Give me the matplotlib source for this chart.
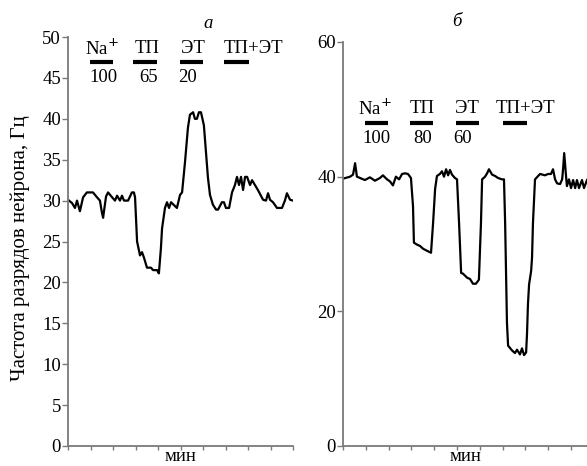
import numpy as np
import matplotlib
matplotlib.use("Agg")
import matplotlib.pyplot as plt

plt.rcParams['font.family'] = ['Liberation Serif', 'DejaVu Serif']

# panel a: time (min) and firing rate (Hz)
t_a = [0, 0.18, 0.31, 0.4, 0.53, 0.67, 0.84, 1.11, 1.29, 1.42, 1.51, 1.56, 1.69, 1.78,
       1.96, 2.09, 2.18, 2.31, 2.4, 2.49, 2.67, 2.84, 2.93, 2.98, 3.07, 3.2, 3.29, 3.38,
       3.51, 3.69, 3.78, 3.96, 4.04, 4.13, 4.18, 4.31, 4.4, 4.49, 4.58, 4.84, 4.98, 5.07,
       5.2, 5.33, 5.42, 5.56, 5.64, 5.73, 5.82, 5.91, 6.04, 6.13, 6.22, 6.31, 6.44, 6.58,
       6.67, 6.84, 6.93, 7.02, 7.16, 7.29, 7.42, 7.51, 7.6, 7.69, 7.78, 7.87, 7.96, 8.09,
       8.18, 8.31, 8.44, 8.67, 8.8, 8.89, 8.98, 9.11, 9.29, 9.51, 9.64, 9.73, 9.87, 10.0]
f_a = [30.1, 29.7, 29.1, 30.0, 28.7, 30.4, 31.0, 31.0, 30.4, 30.0, 28.5, 27.9, 30.5, 31.0,
       30.4, 30.0, 30.6, 30.0, 30.6, 30.0, 30.0, 31.0, 31.0, 30.4, 25.0, 23.3, 23.7, 23.0,
       21.8, 21.8, 21.5, 21.5, 21.1, 24.2, 26.6, 29.1, 29.8, 29.1, 29.8, 29.1, 30.7, 31.0,
       34.7, 38.9, 40.5, 40.8, 40.0, 40.0, 40.8, 40.8, 39.2, 36.0, 32.8, 30.7, 29.5, 28.9,
       28.9, 29.8, 29.8, 29.1, 29.1, 31.0, 31.9, 32.9, 31.9, 32.9, 31.3, 32.9, 32.9, 31.9,
       32.5, 31.9, 31.3, 30.1, 30.0, 30.9, 30.1, 29.8, 29.1, 29.1, 30.0, 30.9, 30.1, 30.0]

# panel b
t_b = [0, 0.31, 0.44, 0.53, 0.61, 0.75, 0.96, 1.18, 1.4, 1.62, 1.75, 1.93, 2.06, 2.19,
       2.32, 2.46, 2.59, 2.72, 2.85, 2.98, 3.07, 3.11, 3.25, 3.38, 3.51, 3.68, 3.86, 3.95,
       4.04, 4.12, 4.25, 4.34, 4.43, 4.52, 4.61, 4.69, 4.78, 4.91, 5.0, 5.09, 5.18, 5.26,
       5.44, 5.57, 5.7, 5.83, 5.96, 6.05, 6.1, 6.23, 6.32, 6.4, 6.54, 6.67, 6.8, 6.97,
       7.06, 7.11, 7.19, 7.24, 7.41, 7.54, 7.63, 7.76, 7.85, 7.94, 8.03, 8.07, 8.11, 8.16,
       8.25, 8.29, 8.33, 8.42, 8.64, 8.86, 8.99, 9.12, 9.21, 9.3, 9.39, 9.52, 9.61, 9.65,
       9.7, 9.78, 9.82, 9.91, 10.0, 10.09, 10.18, 10.26, 10.35, 10.48, 10.57, 10.7]
f_b = [39.7, 40.0, 40.3, 42.0, 40.0, 39.8, 39.5, 39.9, 39.4, 39.8, 40.2, 39.6, 39.3, 38.7,
       40.0, 39.6, 40.4, 40.5, 40.4, 39.8, 35.6, 30.2, 29.9, 29.7, 29.3, 29.0, 28.7, 33.1,
       38.2, 40.1, 40.4, 40.8, 40.0, 41.1, 40.2, 41.0, 40.3, 39.8, 39.6, 33.1, 25.7, 25.6,
       25.0, 24.8, 24.1, 24.1, 24.7, 33.1, 39.6, 40.0, 40.5, 41.1, 40.3, 40.1, 39.8, 39.6,
       39.6, 33.1, 18.3, 14.9, 14.2, 13.8, 14.3, 13.6, 14.5, 13.5, 13.9, 16.7, 21.0, 24.0,
       26.0, 28.0, 33.1, 39.6, 40.4, 40.2, 40.4, 40.4, 41.1, 39.6, 39.0, 38.9, 39.6, 41.1,
       43.5, 40.1, 38.6, 39.6, 38.3, 39.5, 38.3, 39.5, 38.3, 39.5, 38.3, 39.5]

agents = ['Na$^{+}$', 'ТП', 'ЭТ', 'ТП+ЭТ']
doses_a = ['100', '65', '20', '']
doses_b = ['100', '80', '60', '']
bars_a = [(0.98, 2.0), (2.89, 3.96), (4.98, 6.0), (6.93, 8.04)]
bars_b = [(0.96, 1.97), (2.94, 3.95), (4.96, 5.96), (7.02, 8.07)]
name_x_a = [1.51, 3.51, 5.56, 8.22]
dose_x_a = [1.56, 3.6, 5.33, 0]
name_x_b = [1.4, 3.46, 5.44, 7.98]
dose_x_b = [1.45, 3.5, 5.26, 0]

W, H = 587, 466
fig = plt.figure(figsize=(W / 100, H / 100), dpi=100)
ax1 = fig.add_axes([68 / W, 20 / H, 225 / W, 409 / H])
ax2 = fig.add_axes([343 / W, 20 / H, 244 / W, 404 / H])

axcol = '#7a7a7a'
fs = 13.5


def style(ax, xmax):
    for s in ['top', 'right']:
        ax.spines[s].set_visible(False)
    for s in ['left', 'bottom']:
        ax.spines[s].set_color(axcol)
        ax.spines[s].set_linewidth(1.3)
    ax.set_xlim(0, xmax)
    ax.set_xticks(np.arange(0, 11))
    ax.set_xticklabels([])
    ax.tick_params(axis='x', direction='out', length=3, width=1.0, color=axcol)
    ax.tick_params(axis='y', direction='out', length=4.5, width=1.0, color=axcol,
                   labelsize=fs, pad=0.5)
    ax.set_xlabel('мин', fontsize=fs, labelpad=-5)


ax1.plot(t_a, f_a, color='black', lw=1.6)
style(ax1, 10)
ax1.set_ylim(0, 50)
ax1.set_yticks(np.arange(0, 51, 5))

ax2.plot(t_b, f_b, color='black', lw=1.6)
style(ax2, 10.7)
ax2.set_ylim(0, 60)
ax2.set_yticks([0, 20, 40, 60])

# application bars and labels
for (x0, x1), name, nx, d, dx in zip(bars_a, agents, name_x_a, doses_a, dose_x_a):
    ax1.plot([x0, x1], [46.9, 46.9], color='black', lw=3, solid_capstyle='butt')
    ax1.text(nx, 48.6, name, ha='center', va='center', fontsize=fs)
    if d:
        ax1.text(dx, 45.1, d, ha='center', va='center', fontsize=fs)

for (x0, x1), name, nx, d, dx in zip(bars_b, agents, name_x_b, doses_b, dose_x_b):
    ax2.plot([x0, x1], [47.9, 47.9], color='black', lw=3, solid_capstyle='butt')
    ax2.text(nx, 50.1, name, ha='center', va='center', fontsize=fs)
    if d:
        ax2.text(dx, 45.7, d, ha='center', va='center', fontsize=fs)

fig.text(208 / W, 1 - 23 / H, 'а', ha='center', va='center', fontsize=fs, style='italic')
fig.text(457 / W, 1 - 22 / H, 'б', ha='center', va='center', fontsize=fs, style='italic')
fig.text(20 / W, 1 - 248 / H, 'Частота разрядов нейрона, Гц', rotation=90,
         ha='center', va='center', fontsize=15)

fig.savefig('out.png', dpi=100)
